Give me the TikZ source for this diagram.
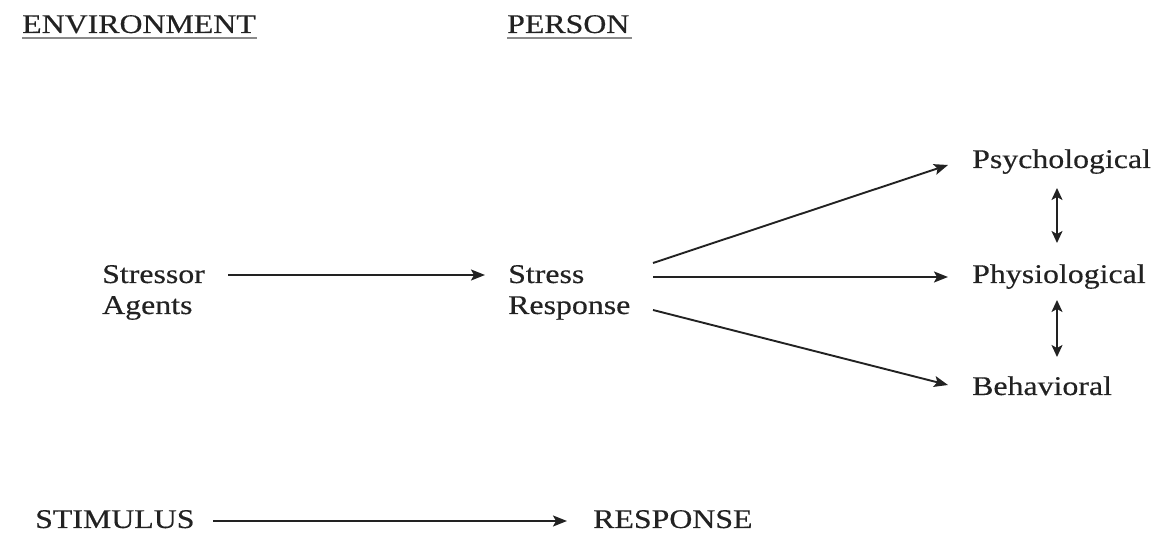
\documentclass[tikz,border=0pt]{standalone}
\usepackage{fontspec}
\setmainfont[FakeStretch=1.18,FakeBold=0.4]{Liberation Serif}
\usetikzlibrary{arrows.meta}
\definecolor{ink}{HTML}{222222}
\definecolor{ulgray}{HTML}{8A8A8A}
\tikzset{
  lbl/.style={anchor=base west, inner sep=0pt, text=ink, font=\fontsize{27}{32}\selectfont},
  arr/.style={draw=ink, line width=1.9pt, -{Stealth[length=14pt,width=11pt,inset=3pt]}},
  dbl/.style={draw=ink, line width=1.8pt, {Stealth[length=12pt,width=11pt,inset=3pt]}-{Stealth[length=12pt,width=11pt,inset=3pt]}},
  ul/.style={draw=ulgray, line width=1.8pt}
}
\begin{document}
\begin{tikzpicture}[x=1pt,y=1pt]
\useasboundingbox (0,0) rectangle (1152,533);
% headings
\node[lbl] (env) at (22,500) {ENVIRONMENT};
\node[lbl] (person) at (507,500) {PERSON};
\draw[ul] ([yshift=-5pt]env.base west) -- ([yshift=-5pt,xshift=1pt]env.base east);
\draw[ul] ([yshift=-5pt]person.base west) -- ([yshift=-5pt,xshift=2pt]person.base east);
% left
\node[lbl] (stressor) at (102,250) {Stressor};
\node[lbl] (agents) at (102,219) {Agents};
% middle
\node[lbl] (stress) at (508,250) {Stress};
\node[lbl] (response) at (508,219) {Response};
% right
\node[lbl] (psych) at (972,365) {Psychological};
\node[lbl] (physio) at (972,250) {Physiological};
\node[lbl] (behav) at (972,138) {Behavioral};
% bottom
\node[lbl] (stimulus) at (35,5) {STIMULUS};
\node[lbl] (resp) at (593,5) {RESPONSE};
% arrows
\draw[arr] ([shift={(126pt,8pt)}]stressor.base west) -- ([shift={(-23pt,8pt)}]stress.base west);
\draw[arr] ([shift={(145pt,20pt)}]stress.base west) -- ([shift={(-24pt,3pt)}]psych.base west);
\draw[arr] ([shift={(145pt,6pt)}]stress.base west) -- ([shift={(-24pt,6pt)}]physio.base west);
\draw[arr] ([shift={(145pt,-27pt)}]stress.base west) -- ([shift={(-24pt,10pt)}]behav.base west);
\draw[dbl] ([shift={(85pt,-20pt)}]psych.base west) -- ([shift={(85pt,40pt)}]physio.base west);
\draw[dbl] ([shift={(85pt,-17pt)}]physio.base west) -- ([shift={(85pt,38pt)}]behav.base west);
\draw[arr] ([shift={(178pt,7pt)}]stimulus.base west) -- ([shift={(-26pt,7pt)}]resp.base west);
\end{tikzpicture}
\end{document}
